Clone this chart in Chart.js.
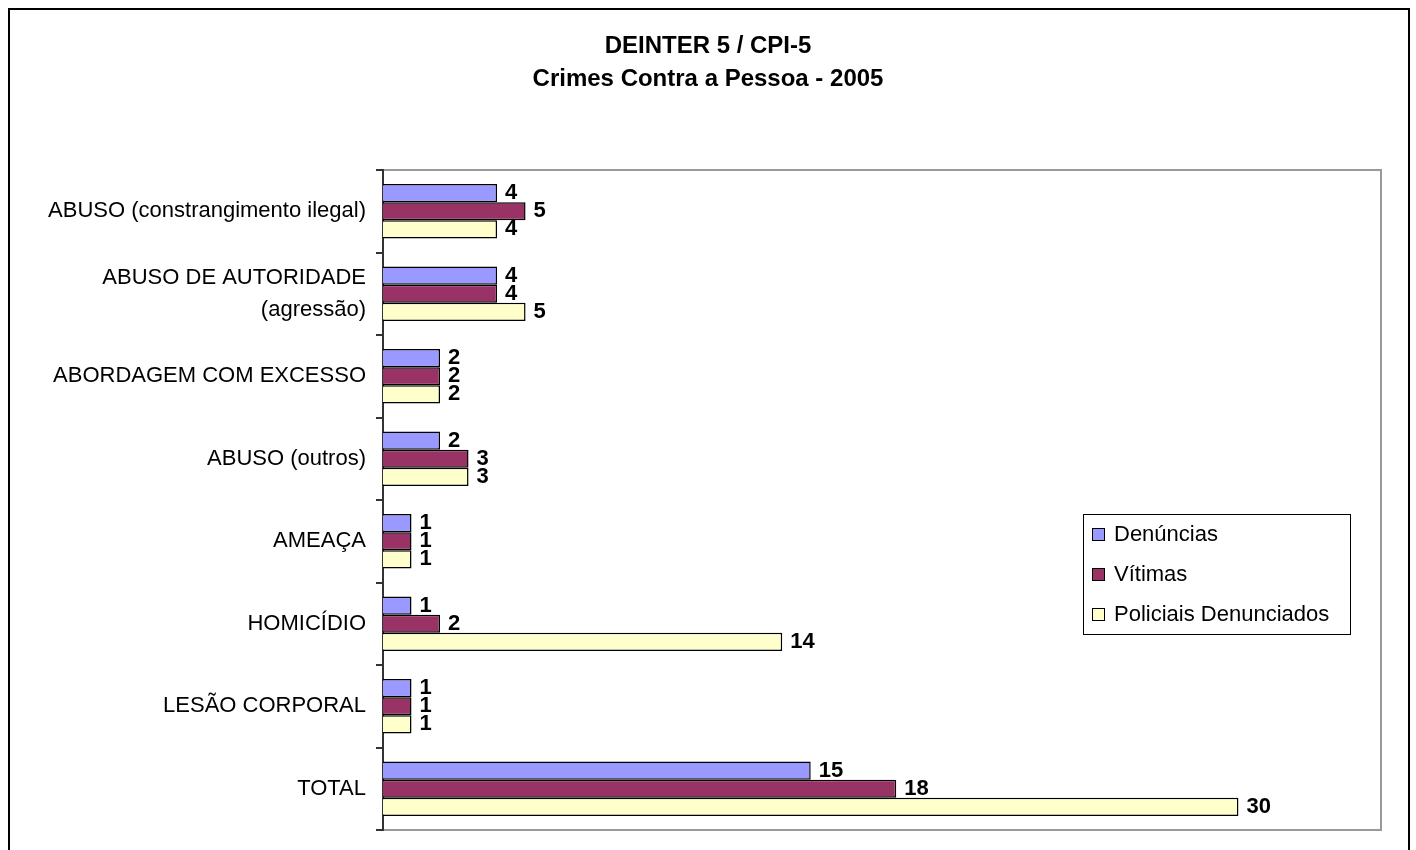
<!DOCTYPE html>
<html>
<head>
<meta charset="utf-8">
<script src="https://cdn.jsdelivr.net/npm/chart.js@4.4.0/dist/chart.umd.min.js"></script>
<style>
  body { margin: 0; background: #fff; }
  #wrap { width: 1416px; height: 850px; }
</style>
</head>
<body>
<div id="wrap"><canvas id="myChart" width="1416" height="850"></canvas></div>
<script>
// chart data
var categories = [
    "ABUSO (constrangimento ilegal)",
    ["ABUSO DE AUTORIDADE", "(agressão)"],
    "ABORDAGEM COM EXCESSO",
    "ABUSO (outros)",
    "AMEAÇA",
    "HOMICÍDIO",
    "LESÃO CORPORAL",
    "TOTAL"
];
var denuncias = [4, 4, 2, 2, 1, 1, 1, 15];
var vitimas = [5, 4, 2, 3, 1, 2, 1, 18];
var policiais = [4, 5, 2, 3, 1, 14, 1, 30];
var titleLines = ["DEINTER 5 / CPI-5", "Crimes Contra a Pessoa - 2005"];

var FONT = "'Liberation Sans', Arial, sans-serif";

// frame, title, plot border, value labels and legend
var excelLook = {
    id: "excelLook",
    beforeDraw: function (chart) {
        var ctx = chart.ctx;
        var a = chart.chartArea;
        ctx.save();
        ctx.fillStyle = "#fff";
        ctx.fillRect(0, 0, chart.width, chart.height);
        ctx.strokeStyle = "#000";
        ctx.lineWidth = 2;
        ctx.strokeRect(9, 9, 1400, 860);
        ctx.strokeStyle = "#999";
        ctx.lineWidth = 2;
        ctx.strokeRect(a.left, a.top, a.right - a.left, a.bottom - a.top);
        ctx.restore();
    },
    afterDraw: function (chart) {
        var ctx = chart.ctx;
        ctx.save();
        // title
        ctx.fillStyle = "#000";
        ctx.textAlign = "center";
        ctx.textBaseline = "middle";
        ctx.font = "bold 24px " + FONT;
        ctx.fillText(titleLines[0], 708, 46);
        ctx.fillText(titleLines[1], 708, 79);

        // value labels
        ctx.textAlign = "left";
        ctx.font = "bold 22px " + FONT;
        chart.data.datasets.forEach(function (ds, i) {
            chart.getDatasetMeta(i).data.forEach(function (bar, j) {
                ctx.fillText(ds.data[j], bar.x + 8, bar.y);
            });
        });

        // legend
        var lx = 1083, ly = 514;
        ctx.fillStyle = "#fff";
        ctx.fillRect(lx, ly, 267, 120);
        ctx.strokeStyle = "#000";
        ctx.lineWidth = 1;
        ctx.strokeRect(lx + 0.5, ly + 0.5, 267, 120);
        ctx.font = "22px " + FONT;
        chart.data.datasets.forEach(function (ds, i) {
            var y = ly + 20 + i * 40;
            ctx.fillStyle = ds.backgroundColor;
            ctx.fillRect(lx + 9, y - 6, 13, 13);
            ctx.strokeStyle = "#000";
            ctx.strokeRect(lx + 9.5, y - 5.5, 12, 12);
            ctx.fillStyle = "#000";
            ctx.fillText(ds.label, lx + 31, y + 1);
        });
        ctx.restore();
    }
};

var canvas = document.getElementById("myChart");
var myChart = new Chart(canvas.getContext("2d"), {
    type: "bar",
    data: {
        labels: categories,
        datasets: [{
            label: "Denúncias",
            data: denuncias,
            backgroundColor: "#9999FF",
            borderColor: "#000",
            borderWidth: 1.5
        }, {
            label: "Vítimas",
            data: vitimas,
            backgroundColor: "#993366",
            borderColor: "#000",
            borderWidth: 1.5
        }, {
            label: "Policiais Denunciados",
            data: policiais,
            backgroundColor: "#FFFFCC",
            borderColor: "#000",
            borderWidth: 1.5
        }]
    },
    options: {
        indexAxis: "y",
        responsive: false,
        animation: false,
        categoryPercentage: 0.66,
        barPercentage: 1.0,
        layout: { padding: { top: 170, right: 35, bottom: 20, left: 0 } },
        plugins: {
            legend: { display: false },
            title: { display: false },
            tooltip: { enabled: false }
        },
        scales: {
            x: {
                display: false,
                min: 0,
                max: 35
            },
            y: {
                afterFit: function (scale) {
                    scale.width = 383;
                    scale.paddingTop = 0;
                    scale.paddingBottom = 0;
                },
                border: { display: true, color: "#333", width: 2 },
                grid: {
                    display: true,
                    offset: true,
                    drawOnChartArea: false,
                    drawTicks: true,
                    tickLength: 7,
                    color: "#333",
                    lineWidth: 2
                },
                ticks: {
                    color: "#000",
                    padding: 10,
                    font: { family: FONT, size: 22, lineHeight: 1.45 }
                }
            }
        }
    },
    plugins: [excelLook]
});
</script>
</body>
</html>
